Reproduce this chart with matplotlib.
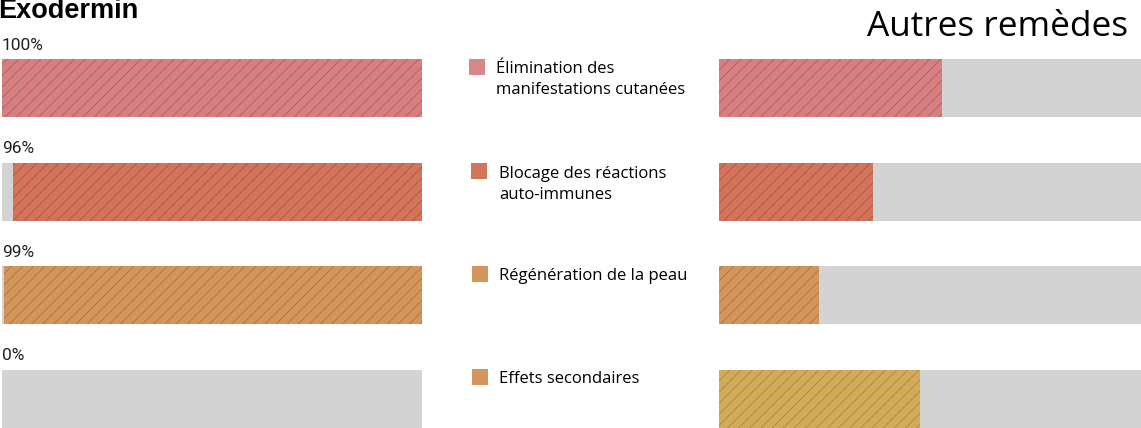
import matplotlib
matplotlib.use("Agg")
import matplotlib.pyplot as plt

categories = ["Élimination des\nmanifestations cutanées",
              "Blocage des réactions\nauto-immunes",
              "Régénération de la peau",
              "Effets secondaires"]
exodermin = [100, 97.4, 99.5, 0]
exodermin_labels = ["100%", "96%", "99%", "0%"]
autres = [52.8, 36.5, 23.7, 47.6]
bar_colors = ["#d67f80", "#d2735a", "#d4955a", "#d2aa58"]
hatch_colors = ["#a85a5c", "#a05442", "#a07040", "#a0823e"]
legend_colors = ["#d98688", "#d4755a", "#d4955a", "#d4955a"]
grey = "#d3d3d3"

W, H = 1141, 428
fig = plt.figure(figsize=(W / 100, H / 100), dpi=100)
plt.rcParams['hatch.linewidth'] = 0.5

centers = [88, 192, 295, 399]
spacing = (centers[-1] - centers[0]) / 3
ylo = -centers[0] / spacing
yhi = 3 + (H - centers[-1]) / spacing
bh = 58 / spacing

def make_ax(x0, w):
    ax = fig.add_axes([x0 / W, 0, w / W, 1])
    ax.set_xlim(0, 100)
    ax.set_ylim(yhi, ylo)
    ax.axis("off")
    return ax

axL = make_ax(2, 420)
for i, v in enumerate(exodermin):
    axL.barh(i, 100, height=bh, color=grey, linewidth=0)
    if v > 0:
        axL.barh(i, v, left=100 - v, height=bh, color=bar_colors[i],
                 edgecolor=hatch_colors[i], linewidth=0, hatch="///")
    axL.text(0, i - 43 / spacing, exodermin_labels[i], ha="left", va="center",
             fontsize=12.5, family="Roboto", color="#222222")

axR = make_ax(719, 422)
for i, v in enumerate(autres):
    axR.barh(i, 100, height=bh, color=grey, linewidth=0)
    axR.barh(i, v, left=0, height=bh, color=bar_colors[i],
             edgecolor=hatch_colors[i], linewidth=0, hatch="///")

fig.text(-2 / W, 1 - 11 / H, "Exodermin", ha="left", va="center",
         fontsize=19.5, fontweight="bold", family="Liberation Sans", color="black")
fig.text(1128 / W, 1 - 27 / H, "Autres remèdes", ha="right", va="center",
         fontsize=25.4, family="Open Sans", color="black")

leg_y = [67, 171, 274, 377]
leg_x = [469, 471, 472, 472]
text_x = [496, 499, 499, 499]
text_y = [71, 176, 278, 381]
for i, cat in enumerate(categories):
    y = leg_y[i]
    fig.patches.append(plt.Rectangle((leg_x[i] / W, 1 - (y + 8) / H), 16 / W, 16 / H,
                                     transform=fig.transFigure, color=legend_colors[i],
                                     linewidth=0))
    fig.text(text_x[i] / W, 1 - (text_y[i] - 10) / H, cat, ha="left", va="top",
             fontsize=12, family="Open Sans", color="black", linespacing=1.42)

fig.savefig("out.png", dpi=100)
